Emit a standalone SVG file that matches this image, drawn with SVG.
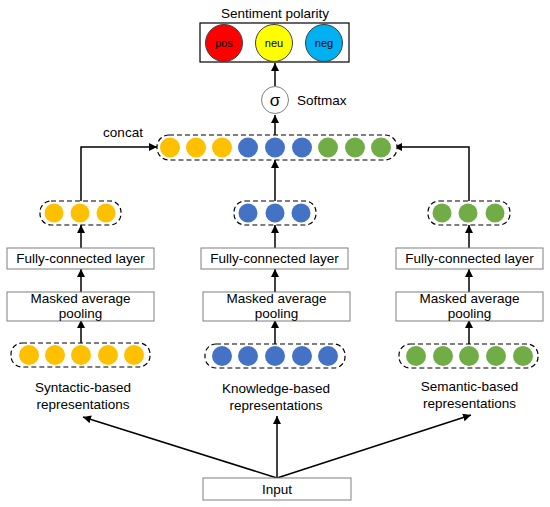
<svg xmlns="http://www.w3.org/2000/svg" width="550" height="507" viewBox="0 0 550 507">
<defs>
<marker id="ah" viewBox="0 0 10 10" refX="10" refY="5" markerWidth="8" markerHeight="8" markerUnits="userSpaceOnUse" orient="auto">
<path d="M0,0 L10,5 L0,10 z" fill="#000"/>
</marker>
</defs>
<style>
text{font-family:"Liberation Sans",Arial,sans-serif;font-size:13.5px;fill:#000;text-anchor:middle}
.box{fill:#fff;stroke:#7f7f7f;stroke-width:1}
.dash{fill:#fff;stroke:#000;stroke-width:1.2;stroke-dasharray:5,3}
.y{fill:#FFC000}.b{fill:#4472C4}.g{fill:#70AD47}
.ln{fill:none;stroke:#000;stroke-width:1.5}
.sm{font-size:11px}
</style>
<rect width="550" height="507" fill="#fff"/>
<g id="connectors">
<path class="ln" d="M275,86 V63" marker-end="url(#ah)"/>
<path class="ln" d="M275,135 V115" marker-end="url(#ah)"/>
<path class="ln" d="M81,201 V147 H157" marker-end="url(#ah)"/>
<path class="ln" d="M275,201 V160" marker-end="url(#ah)"/>
<path class="ln" d="M469,201 V147 H394" marker-end="url(#ah)"/>
<path class="ln" d="M81,248 V225" marker-end="url(#ah)"/>
<path class="ln" d="M275,248 V225" marker-end="url(#ah)"/>
<path class="ln" d="M469,248 V225" marker-end="url(#ah)"/>
<path class="ln" d="M81,292 V269" marker-end="url(#ah)"/>
<path class="ln" d="M275,292 V269" marker-end="url(#ah)"/>
<path class="ln" d="M469,292 V269" marker-end="url(#ah)"/>
<path class="ln" d="M81,344 V320" marker-end="url(#ah)"/>
<path class="ln" d="M275,344 V320" marker-end="url(#ah)"/>
<path class="ln" d="M469,344 V320" marker-end="url(#ah)"/>
<path class="ln" d="M277,478 L83,417" marker-end="url(#ah)"/>
<path class="ln" d="M277,478 V416" marker-end="url(#ah)"/>
<path class="ln" d="M277,478 L471,415" marker-end="url(#ah)"/>
</g>
<g id="output">
<text x="275" y="18">Sentiment polarity</text>
<rect x="200" y="23" width="149" height="39" fill="#fff" stroke="#000" stroke-width="1.2"/>
<circle cx="224" cy="43" r="18.5" fill="#FF0000" stroke="#404040" stroke-width="1"/>
<circle cx="274" cy="43" r="18.5" fill="#FFFF00" stroke="#404040" stroke-width="1"/>
<circle cx="324" cy="43" r="18.5" fill="#00B0F0" stroke="#404040" stroke-width="1"/>
<text class="sm" x="224" y="47">pos</text>
<text class="sm" x="274" y="47">neu</text>
<text class="sm" x="324" y="47">neg</text>
</g>
<g id="softmax">
<circle cx="275" cy="100" r="13.5" fill="#fff" stroke="#7f7f7f" stroke-width="1"/>
<text x="275" y="106" style="font-size:17px">σ</text>
<text x="297" y="105" style="text-anchor:start">Softmax</text>
</g>
<g id="concat">
<text x="123" y="137">concat</text>
<rect class="dash" x="157" y="135" width="240" height="25" rx="12"/>
<circle class="y" cx="170" cy="147.5" r="10"/>
<circle class="y" cx="196" cy="147.5" r="10"/>
<circle class="y" cx="222" cy="147.5" r="10"/>
<circle class="b" cx="248" cy="147.5" r="10"/>
<circle class="b" cx="275" cy="147.5" r="10"/>
<circle class="b" cx="302" cy="147.5" r="10"/>
<circle class="g" cx="328" cy="147.5" r="10"/>
<circle class="g" cx="355" cy="147.5" r="10"/>
<circle class="g" cx="381" cy="147.5" r="10"/>
</g>
<g id="syn-fc-out">
<rect class="dash" x="40" y="201" width="81" height="24" rx="11"/>
<circle class="y" cx="54" cy="213" r="9.5"/>
<circle class="y" cx="80" cy="213" r="9.5"/>
<circle class="y" cx="106" cy="213" r="9.5"/>
</g>
<g id="kno-fc-out">
<rect class="dash" x="234" y="201" width="82" height="24" rx="11"/>
<circle class="b" cx="248" cy="213" r="9.5"/>
<circle class="b" cx="275" cy="213" r="9.5"/>
<circle class="b" cx="301" cy="213" r="9.5"/>
</g>
<g id="sem-fc-out">
<rect class="dash" x="428" y="201" width="82" height="24" rx="11"/>
<circle class="g" cx="442" cy="213" r="9.5"/>
<circle class="g" cx="468" cy="213" r="9.5"/>
<circle class="g" cx="495" cy="213" r="9.5"/>
</g>
<g id="syn-fc">
<rect class="box" x="7" y="248" width="147" height="21"/>
<text x="80.5" y="263">Fully-connected layer</text>
</g>
<g id="kno-fc">
<rect class="box" x="201" y="248" width="147" height="21"/>
<text x="274.5" y="263">Fully-connected layer</text>
</g>
<g id="sem-fc">
<rect class="box" x="396" y="248" width="147" height="21"/>
<text x="469.5" y="263">Fully-connected layer</text>
</g>
<g id="syn-pool">
<rect class="box" x="7" y="292" width="147" height="29"/>
<text x="80.5" y="303">Masked average</text>
<text x="80.5" y="318">pooling</text>
</g>
<g id="kno-pool">
<rect class="box" x="203" y="292" width="147" height="29"/>
<text x="276.5" y="303">Masked average</text>
<text x="276.5" y="318">pooling</text>
</g>
<g id="sem-pool">
<rect class="box" x="396" y="292" width="147" height="29"/>
<text x="469.5" y="303">Masked average</text>
<text x="469.5" y="318">pooling</text>
</g>
<g id="syn-rep">
<rect class="dash" x="11" y="343" width="139" height="24" rx="11"/>
<circle class="y" cx="29" cy="355" r="10"/>
<circle class="y" cx="55" cy="355" r="10"/>
<circle class="y" cx="81" cy="355" r="10"/>
<circle class="y" cx="108" cy="355" r="10"/>
<circle class="y" cx="134" cy="355" r="10"/>
<text x="83" y="392">Syntactic-based</text>
<text x="83" y="409">representations</text>
</g>
<g id="kno-rep">
<rect class="dash" x="205" y="344" width="140" height="24" rx="11"/>
<circle class="b" cx="222" cy="356" r="10"/>
<circle class="b" cx="248" cy="356" r="10"/>
<circle class="b" cx="275" cy="356" r="10"/>
<circle class="b" cx="302" cy="356" r="10"/>
<circle class="b" cx="328" cy="356" r="10"/>
<text x="276" y="393">Knowledge-based</text>
<text x="276" y="410">representations</text>
</g>
<g id="sem-rep">
<rect class="dash" x="399" y="344" width="139" height="24" rx="11"/>
<circle class="g" cx="416" cy="356" r="10"/>
<circle class="g" cx="443" cy="356" r="10"/>
<circle class="g" cx="469" cy="356" r="10"/>
<circle class="g" cx="496" cy="356" r="10"/>
<circle class="g" cx="523" cy="356" r="10"/>
<text x="469.5" y="391">Semantic-based</text>
<text x="469.5" y="408">representations</text>
</g>
<g id="input">
<rect class="box" x="203" y="478" width="148" height="22"/>
<text x="277" y="494">Input</text>
</g>
</svg>
